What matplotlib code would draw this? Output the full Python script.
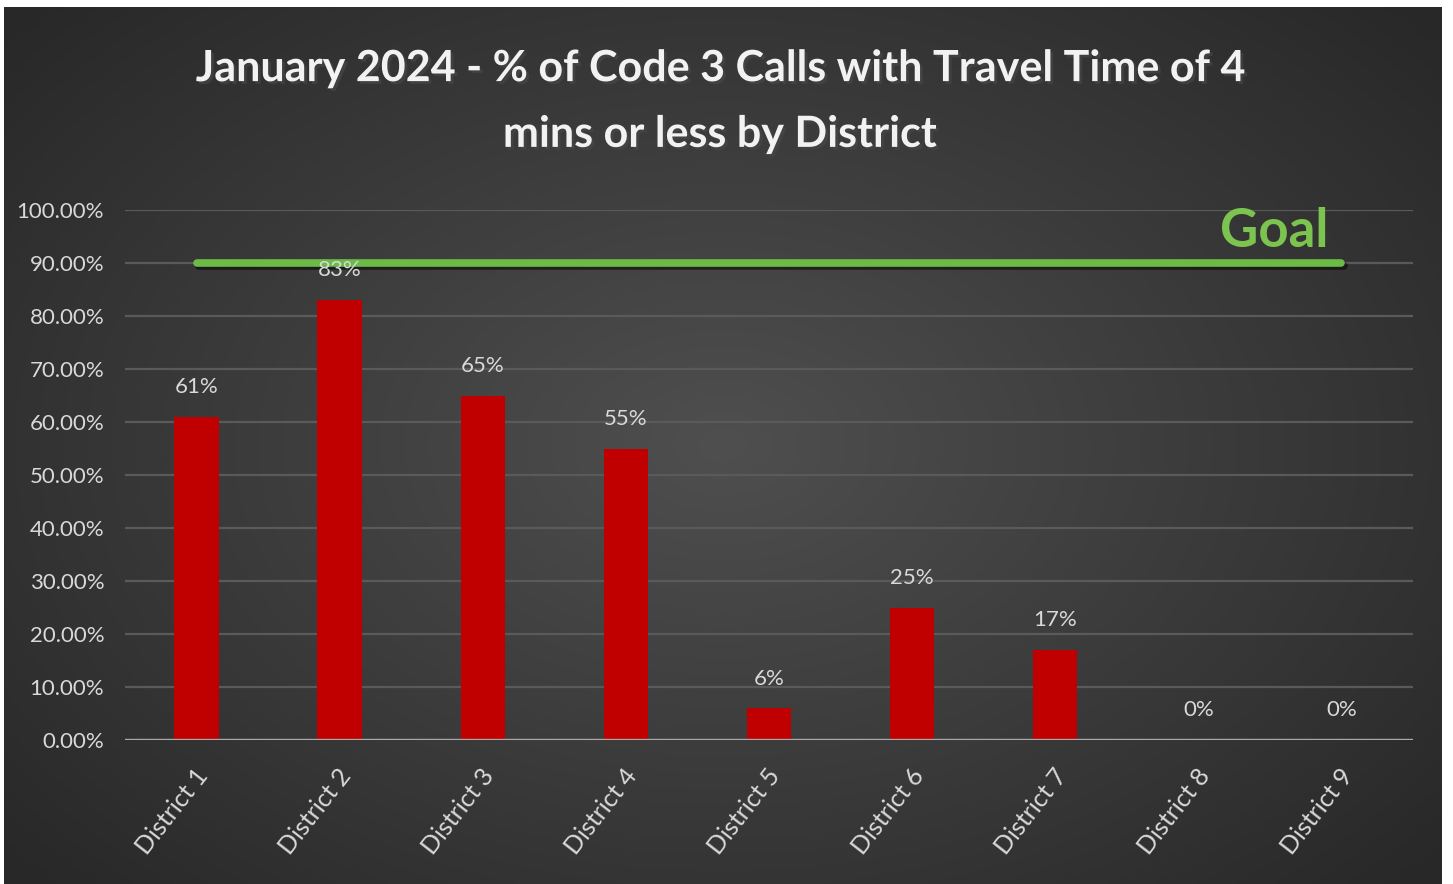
import numpy as np
import matplotlib
matplotlib.use("Agg")
import matplotlib.pyplot as plt
import matplotlib.patheffects as pe
import matplotlib.transforms as mtransforms

# January 2024 code 3 travel-time share by district
districts = ["District 1", "District 2", "District 3", "District 4", "District 5",
             "District 6", "District 7", "District 8", "District 9"]
pct_within_4min = [61, 83, 65, 55, 6, 25, 17, 0, 0]
goal_pct = 90
y_ticks = [0, 10, 20, 30, 40, 50, 60, 70, 80, 90, 100]

W, H = 1453, 884
fig = plt.figure(figsize=(W / 100, H / 100), dpi=100, facecolor="white")

# dark panel with a soft radial glow in the middle
bg = fig.add_axes([4 / W, 0, (1442 - 4) / W, (H - 7) / H])
gx, gy = np.meshgrid(np.linspace(-1, 1, 400), np.linspace(-1, 1, 250))
r = np.sqrt((gx / 1.0) ** 2 + (gy / 1.1) ** 2)
shade = 0.31 - 0.15 * np.clip(r, 0, 1.3) / 1.3
bg.imshow(np.dstack([shade] * 3), aspect="auto", extent=[0, 1, 0, 1], interpolation="bicubic")
bg.axis("off")

ax = fig.add_axes([125 / W, 1 - 740 / H, (1413 - 125) / W, (740 - 210) / H])
ax.patch.set_alpha(0)
x = np.arange(len(districts))

ax.bar(x, pct_within_4min, width=0.31, color="#c00000", zorder=3)
ax.set_xlim(-0.5, len(districts) - 0.5)
ax.set_ylim(0, 100)

# gridlines and base line
ax.set_yticks(y_ticks)
ax.yaxis.grid(True, color="#5a5a5a", linewidth=1.6, zorder=0)
ax.axhline(0, color="#a9a9a9", linewidth=2.4, zorder=4)
for s in ax.spines.values():
    s.set_visible(False)
ax.tick_params(length=0)

lbl_font = dict(family="Lato", weight="normal")
ax.set_yticklabels([f"{t:.2f}%" for t in y_ticks], color="#d9d9d9", fontsize=16, **lbl_font)
ax.tick_params(axis="y", pad=15)
ax.set_xticks(x)
ax.set_xticklabels(districts, rotation=52, ha="right", va="center", rotation_mode="anchor",
                   color="#d9d9d9", fontsize=18, **lbl_font)
ax.tick_params(axis="x", pad=24)
nudge = mtransforms.ScaledTranslation(7 / 100, 2 / 100, fig.dpi_scale_trans)
for t in ax.get_xticklabels():
    t.set_transform(t.get_transform() + nudge)

# goal line across district centres
ax.plot([x[0], x[-1]], [goal_pct, goal_pct], color="#6cbb47", linewidth=5.5,
        solid_capstyle="round", zorder=5,
        path_effects=[pe.SimpleLineShadow(offset=(1.5, -2), alpha=0.5), pe.Normal()])
ax.text(7.53, 95.9, "Goal", color="#7cc44f", fontsize=38, weight="bold", family="Lato",
        ha="center", va="center", zorder=6)

# value labels above bars
for xi, v in zip(x, pct_within_4min):
    ax.text(xi, v + 3.7, f"{v}%", ha="center", va="bottom", color="#d9d9d9",
            fontsize=16, zorder=7, **lbl_font)

fig.text(0.4955, 1 - 101 / H, "January 2024 - % of Code 3 Calls with Travel Time of 4\nmins or less by District",
         ha="center", va="center", color="#f2f2f2", fontsize=31, weight="bold", family="Lato",
         linespacing=1.78,
         path_effects=[pe.withSimplePatchShadow(offset=(2, -2), alpha=0.6)])

fig.savefig("out.png", dpi=100, facecolor=fig.get_facecolor())
